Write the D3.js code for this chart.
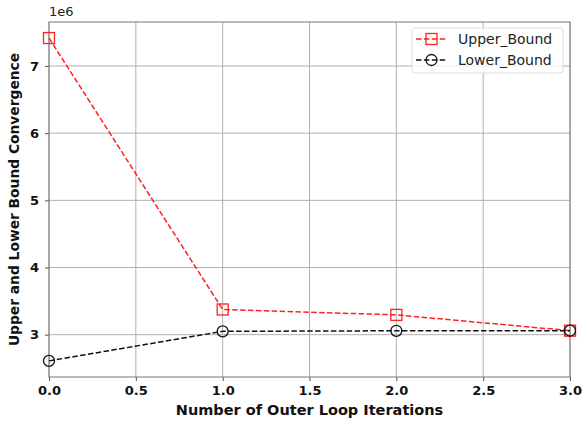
<!DOCTYPE html>
<html lang="en">
<head>
    <meta charset="UTF-8">
    <title>Upper and Lower Bound Convergence</title>
    <script src="https://d3js.org/d3.v7.min.js"></script>
    <style>
        body { margin: 0; background: white; font-family: "DejaVu Sans", sans-serif; }
        svg { display: block; }
    </style>
</head>
<body>
    <svg id="chart" width="582" height="423"></svg>

    <script>
        // data (values in units of 1e6)
        let iterations = [0, 1, 2, 3];
        let upperBound = [7.416, 3.375, 3.295, 3.06];
        let lowerBound = [2.61, 3.05, 3.058, 3.06];
        let xTicks = [0, 0.5, 1, 1.5, 2, 2.5, 3];
        let yTicks = [3, 4, 5, 6, 7];

        let svg = d3.select("#chart");
        let plotLeft = 49, plotRight = 570, plotTop = 22, plotBottom = 377;

        let x = d3.scaleLinear().domain([0, 3]).range([plotLeft, plotRight]);
        let y = d3.scaleLinear().domain([2.37, 7.655]).range([plotBottom, plotTop]);

        // grid
        svg.append("g")
            .selectAll("line")
            .data(xTicks)
            .enter().append("line")
            .attr("x1", d => x(d)).attr("x2", d => x(d))
            .attr("y1", plotTop).attr("y2", plotBottom)
            .attr("stroke", "#b0b0b0").attr("stroke-width", 1);
        svg.append("g")
            .selectAll("line")
            .data(yTicks)
            .enter().append("line")
            .attr("x1", plotLeft).attr("x2", plotRight)
            .attr("y1", d => y(d)).attr("y2", d => y(d))
            .attr("stroke", "#b0b0b0").attr("stroke-width", 1);

        // axes
        let xAxis = svg.append("g")
            .attr("transform", `translate(0,${plotBottom})`)
            .call(d3.axisBottom(x).tickValues(xTicks).tickFormat(d3.format(".1f")).tickSize(4).tickPadding(5));
        let yAxis = svg.append("g")
            .attr("transform", `translate(${plotLeft},0)`)
            .call(d3.axisLeft(y).tickValues(yTicks).tickFormat(d3.format("d")).tickSize(4).tickPadding(6));

        [xAxis, yAxis].forEach(a => {
            a.select(".domain").remove();
            a.selectAll(".tick line").attr("stroke", "#555");
            a.selectAll(".tick text")
                .attr("fill", "#111")
                .style("font-family", "DejaVu Sans")
                .style("font-weight", "bold")
                .style("font-size", "13px");
        });

        // frame
        svg.append("rect")
            .attr("x", plotLeft).attr("y", plotTop)
            .attr("width", plotRight - plotLeft).attr("height", plotBottom - plotTop)
            .attr("fill", "none").attr("stroke", "#777").attr("stroke-width", 1);

        // offset label
        svg.append("text")
            .attr("x", plotLeft).attr("y", plotTop - 6)
            .style("font-size", "13px").attr("fill", "#222")
            .text("1e6");

        // axis labels
        svg.append("text")
            .attr("x", (plotLeft + plotRight) / 2).attr("y", 415)
            .attr("text-anchor", "middle")
            .style("font-size", "14.5px").style("font-weight", "bold").attr("fill", "#111")
            .text("Number of Outer Loop Iterations");
        svg.append("text")
            .attr("transform", `translate(19,${(plotTop + plotBottom) / 2}) rotate(-90)`)
            .attr("text-anchor", "middle")
            .style("font-size", "13.8px").style("font-weight", "bold").attr("fill", "#111")
            .text("Upper and Lower Bound Convergence");

        let line = d3.line().x((d, i) => x(iterations[i])).y(d => y(d));

        let series = [
            { name: "Upper_Bound", values: upperBound, color: "#ff2020", marker: "square" },
            { name: "Lower_Bound", values: lowerBound, color: "#111111", marker: "circle" }
        ];

        function drawMarker(g, s, cx, cy) {
            if (s.marker === "square") {
                g.append("rect")
                    .attr("x", cx - 5.5).attr("y", cy - 5.5)
                    .attr("width", 11).attr("height", 11)
                    .attr("fill", "none").attr("stroke", s.color).attr("stroke-width", 1.3);
            } else {
                g.append("circle")
                    .attr("cx", cx).attr("cy", cy).attr("r", 5.5)
                    .attr("fill", "none").attr("stroke", s.color).attr("stroke-width", 1.3);
            }
        }

        series.forEach(s => {
            svg.append("path")
                .datum(s.values)
                .attr("d", line)
                .attr("fill", "none")
                .attr("stroke", s.color)
                .attr("stroke-width", 1.5)
                .attr("stroke-dasharray", "5.5,2.4");
            let g = svg.append("g");
            s.values.forEach((v, i) => drawMarker(g, s, x(iterations[i]), y(v)));
        });

        // legend
        let lg = svg.append("g");
        lg.append("rect")
            .attr("x", 412).attr("y", 28).attr("width", 151).attr("height", 45)
            .attr("rx", 3)
            .attr("fill", "white").attr("fill-opacity", 0.8)
            .attr("stroke", "#ddd");
        series.forEach((s, i) => {
            let ly = 39 + i * 21;
            lg.append("line")
                .attr("x1", 416).attr("x2", 447)
                .attr("y1", ly).attr("y2", ly)
                .attr("stroke", s.color).attr("stroke-width", 1.5)
                .attr("stroke-dasharray", "5.5,2.4");
            drawMarker(lg, s, 431.5, ly);
            lg.append("text")
                .attr("x", 458).attr("y", ly + 5)
                .style("font-size", "14px").attr("fill", "#222")
                .text(s.name);
        });
    </script>
</body>
</html>
